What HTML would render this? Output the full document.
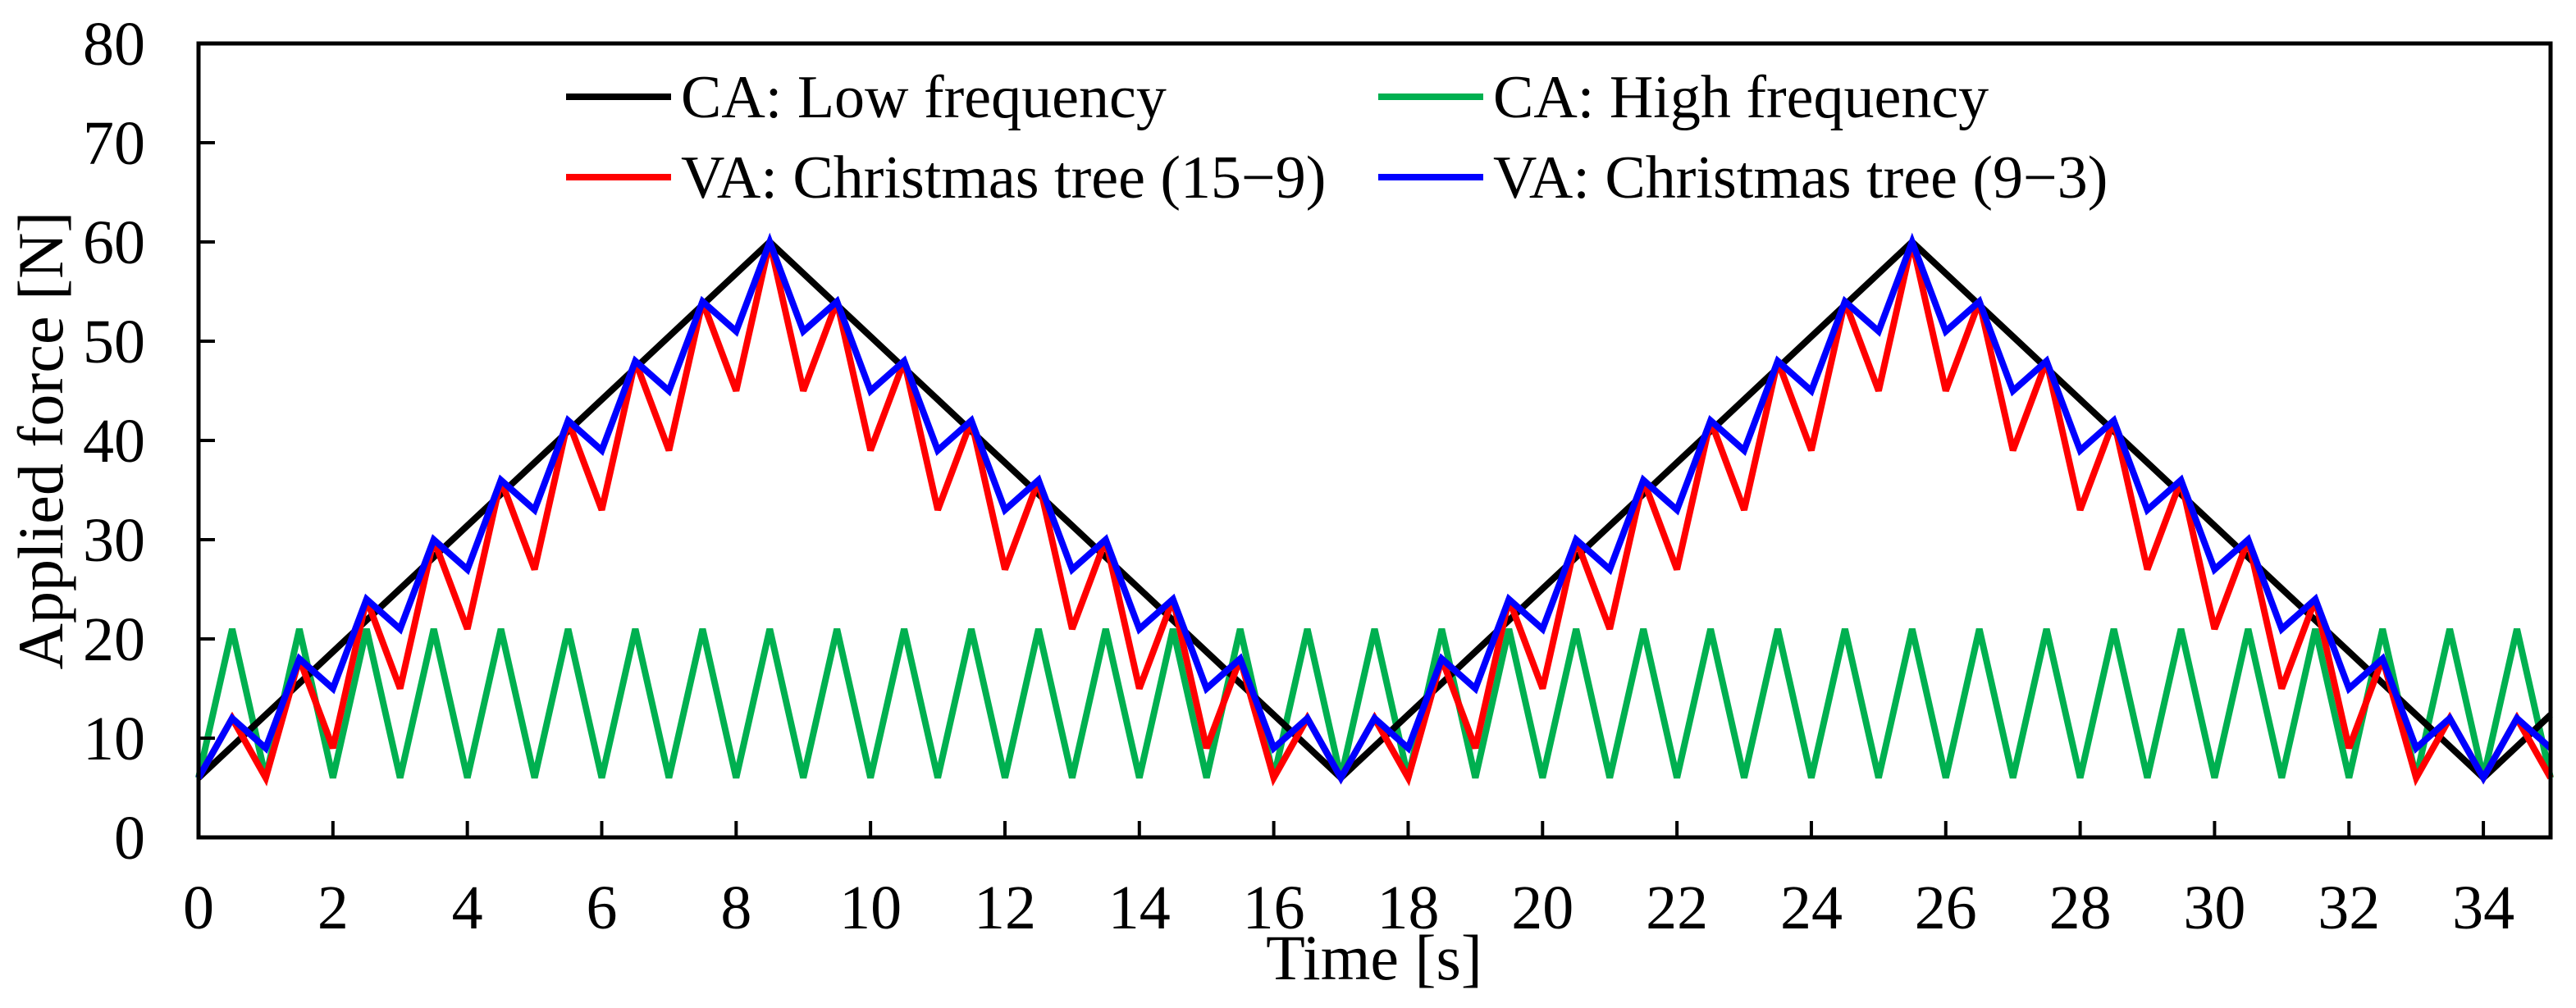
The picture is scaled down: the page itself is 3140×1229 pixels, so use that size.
<!DOCTYPE html>
<html><head><meta charset="utf-8">
<style>
html,body{margin:0;padding:0;background:#fff;}
svg{display:block;font-family:"Liberation Serif","Times New Roman",serif;}
</style></head>
<body>
<svg id="chart" width="3140" height="1229" viewBox="0 0 3140 1229" xmlns="http://www.w3.org/2000/svg">
<g id="marks"></g>
<g id="axes"></g>
<g id="legend"></g>
</svg>
<script>
// ---- data ----
const xTicks = [0,2,4,6,8,10,12,14,16,18,20,22,24,26,28,30,32,34];
const yTicks = [0,10,20,30,40,50,60,70,80];
const lowT = [0,8.5,17,25.5,34,35];
const lowV = [6,60,6,60,6,12.35];
const halfT = [0,0.5,1,1.5,2,2.5,3,3.5,4,4.5,5,5.5,6,6.5,7,7.5,8,8.5,9,9.5,10,10.5,11,11.5,12,12.5,13,13.5,14,14.5,15,15.5,16,16.5,17,17.5,18,18.5,19,19.5,20,20.5,21,21.5,22,22.5,23,23.5,24,24.5,25,25.5,26,26.5,27,27.5,28,28.5,29,29.5,30,30.5,31,31.5,32,32.5,33,33.5,34,34.5,35];
const highV = [6,21,6,21,6,21,6,21,6,21,6,21,6,21,6,21,6,21,6,21,6,21,6,21,6,21,6,21,6,21,6,21,6,21,6,21,6,21,6,21,6,21,6,21,6,21,6,21,6,21,6,21,6,21,6,21,6,21,6,21,6,21,6,21,6,21,6,21,6,21,6];
const redV = [6,12,6,18,9,24,15,30,21,36,27,42,33,48,39,54,45,60,45,54,39,48,33,42,27,36,21,30,15,24,9,18,6,12,6,
              12,6,18,9,24,15,30,21,36,27,42,33,48,39,54,45,60,45,54,39,48,33,42,27,36,21,30,15,24,9,18,6,12,6,
              12,6];
const blueV = [6,12,9,18,15,24,21,30,27,36,33,42,39,48,45,54,51,60,51,54,45,48,39,42,33,36,27,30,21,24,15,18,9,12,6,
               12,9,18,15,24,21,30,27,36,33,42,39,48,45,54,51,60,51,54,45,48,39,42,33,36,27,30,21,24,15,18,9,12,6,
               12,9];
const legendLabels = ["CA: Low frequency","CA: High frequency","VA: Christmas tree (15\u22129)","VA: Christmas tree (9\u22123)"];

// ---- layout ----
const X0=242, X1=3109, Y0=1021, Y1=53;
const xMin=0,xMax=35,yMin=0,yMax=80;
const sx = v => X0 + (v-xMin)/(xMax-xMin)*(X1-X0);
const sy = v => Y0 - (v-yMin)/(yMax-yMin)*(Y0-Y1);
const NS="http://www.w3.org/2000/svg";
function mk(tag, parent){ const e=document.createElementNS(NS,tag); parent.appendChild(e); return e; }
const marks=document.getElementById('marks'), axes=document.getElementById('axes'), legend=document.getElementById('legend');

function series(ts, vs, color, name){
  const p=mk('polyline',marks);
  p.setAttribute('points', ts.map((t,i)=>sx(t).toFixed(1)+','+sy(vs[i]).toFixed(1)).join(' '));
  p.setAttribute('fill','none'); p.setAttribute('stroke',color); p.setAttribute('stroke-width','8');
  p.setAttribute('stroke-linejoin','miter'); p.setAttribute('stroke-miterlimit','3');
  
  
}
series(halfT, highV, '#00b050', 'series-ca-high-frequency');
series(lowT, lowV, '#000000', 'series-ca-low-frequency');
series(halfT, redV, '#ff0000', 'series-va-christmas-tree-15-9');
series(halfT, blueV, '#0000ff', 'series-va-christmas-tree-9-3');

// frame
const fr=mk('rect',axes);
fr.setAttribute('x',X0); fr.setAttribute('y',Y1); fr.setAttribute('width',X1-X0); fr.setAttribute('height',Y0-Y1);
fr.setAttribute('fill','none'); fr.setAttribute('stroke','#000'); fr.setAttribute('stroke-width','5');



xTicks.forEach(v=>{
  const l=mk('line',axes);
  l.setAttribute('x1',sx(v)); l.setAttribute('x2',sx(v)); l.setAttribute('y1',Y0); l.setAttribute('y2',Y0-20);
  l.setAttribute('stroke','#000'); l.setAttribute('stroke-width','4');
  
  
  const t=mk('text',axes);
  t.setAttribute('x',sx(v)); t.setAttribute('y',1132); t.setAttribute('text-anchor','middle'); t.setAttribute('font-size','76');
  t.textContent=String(v);
  
  
});
yTicks.forEach(v=>{
  if(v>yMin && v<yMax){
    const l=mk('line',axes);
    l.setAttribute('x1',X0); l.setAttribute('x2',X0+20); l.setAttribute('y1',sy(v)); l.setAttribute('y2',sy(v));
    l.setAttribute('stroke','#000'); l.setAttribute('stroke-width','4');
    
    
  }
  const t=mk('text',axes);
  t.setAttribute('x',177); t.setAttribute('y',sy(v)+26); t.setAttribute('text-anchor','end'); t.setAttribute('font-size','76');
  t.textContent=String(v);
  
  
});
const xt=mk('text',axes);
xt.setAttribute('x',1675); xt.setAttribute('y',1194); xt.setAttribute('text-anchor','middle'); xt.setAttribute('font-size','78');
xt.textContent='Time [s]';


const yt=mk('text',axes);
yt.setAttribute('transform','translate(76,537) rotate(-90)'); yt.setAttribute('text-anchor','middle'); yt.setAttribute('font-size','78');
yt.textContent='Applied force [N]';



// legend
const legColors=['#000000','#00b050','#ff0000','#0000ff'];
const legX=[690,1680,690,1680], legY=[118,118,216,216];
legendLabels.forEach((lab,i)=>{
  const g=mk('g',legend);
  
  
  const l=mk('line',g);
  l.setAttribute('x1',legX[i]); l.setAttribute('x2',legX[i]+128); l.setAttribute('y1',legY[i]); l.setAttribute('y2',legY[i]);
  l.setAttribute('stroke',legColors[i]); l.setAttribute('stroke-width','8');
  
  
  const t=mk('text',g);
  t.setAttribute('x',legX[i]+140); t.setAttribute('y',legY[i]+25); t.setAttribute('font-size','74');
  t.textContent=lab;
  
  
});
</script>
</body></html>
